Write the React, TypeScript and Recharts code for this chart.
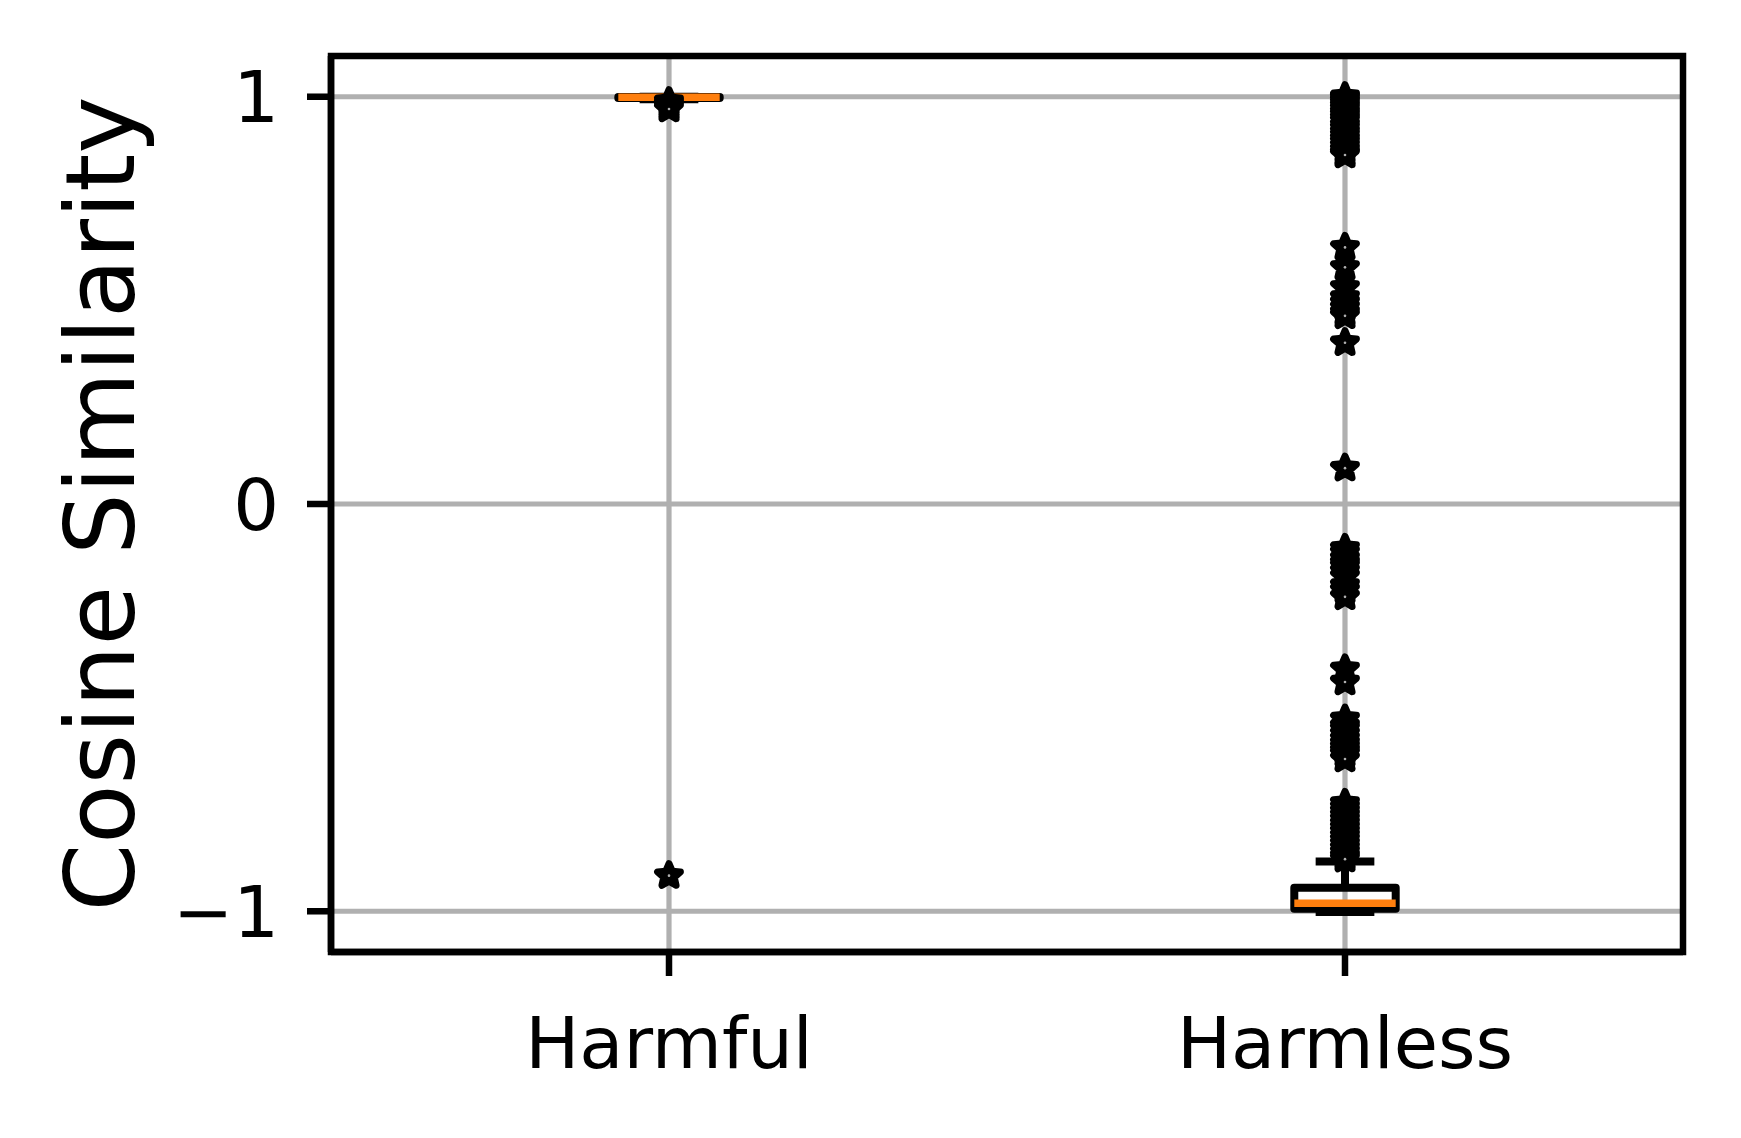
import React from 'react';
import {
  ComposedChart,
  XAxis,
  YAxis,
  CartesianGrid,
  Scatter,
  ReferenceArea,
  ReferenceLine,
  Label,
} from 'recharts';

// ---- data ----
const categories = ['Harmful', 'Harmless'];
const positions = [1, 2];
const boxWidth = 0.15;
const q1 = [0.997, -0.994];
const medians = [0.9985, -0.98];
const q3 = [0.9995, -0.942];
const whiskerLow = [0.994, -1.002];
const whiskerHigh = [1.0, -0.878];

const harmfulOutliers = [0.988, 0.982, 0.976, 0.97, -0.9125];
const harmlessOutliers = [
  1.0, 0.996, 0.99, 0.984, 0.977, 0.97, 0.962, 0.955, 0.947, 0.94, 0.93, 0.922, 0.913, 0.905,
  0.896, 0.888, 0.879, 0.87, 0.862, 0.857,
  0.63, 0.581, 0.532, 0.507, 0.494, 0.482, 0.47, 0.462, 0.396, 0.088,
  -0.109, -0.12, -0.134, -0.145, -0.153, -0.165, -0.178, -0.2, -0.212, -0.228,
  -0.405, -0.437,
  -0.528, -0.545, -0.553, -0.565, -0.577, -0.588, -0.597, -0.606, -0.614, -0.626,
  -0.735, -0.745, -0.755, -0.765, -0.775, -0.785, -0.795, -0.805, -0.815, -0.825, -0.835,
  -0.845, -0.855, -0.865, -0.872,
];

const yTicks = [-1, 0, 1];
const xDomain = [0.5, 2.5];
const yDomain = [-1.1, 1.1];

const outlierData = [
  ...harmfulOutliers.map((v) => ({ x: positions[0], y: v })),
  ...harmlessOutliers.map((v) => ({ x: positions[1], y: v })),
];

const FONT = '"DejaVu Sans", sans-serif';
const SPINE = 6.5;
const GRID = 5.2;
const BLW = 8;

const Star = (props: any) => {
  const { cx, cy } = props;
  if (cx == null || cy == null) return null;
  const R = 12;
  const r = 5.5;
  const pts: string[] = [];
  for (let i = 0; i < 10; i++) {
    const rad = i % 2 === 0 ? R : r;
    const a = -Math.PI / 2 + (i * Math.PI) / 5;
    pts.push(`${cx + rad * Math.cos(a)},${cy + rad * Math.sin(a)}`);
  }
  return (
    <g>
      <polygon
        points={pts.join(' ')}
        fill="#000"
        stroke="#000"
        strokeWidth={7}
        strokeLinejoin="round"
      />
      <circle cx={cx} cy={cy} r={1.3} fill="#b0b0b0" />
    </g>
  );
};

const fmtY = (v: number) => (v < 0 ? `\u2212${Math.abs(v)}` : `${v}`);
const fmtX = (v: number) => {
  const i = positions.indexOf(v);
  return i >= 0 ? categories[i] : '';
};

export default function App() {
  return (
    <div style={{ position: 'absolute', left: 0, top: 0, width: 1741, height: 1138, background: '#fff' }}>
      <ComposedChart
        width={1741}
        height={1138}
        margin={{ top: 56, right: 58, left: 0, bottom: 0 }}
      >
        <CartesianGrid stroke="#b0b0b0" strokeWidth={GRID} vertical horizontal />
        <XAxis
          type="number"
          dataKey="x"
          domain={xDomain}
          ticks={positions}
          tickFormatter={fmtX}
          allowDataOverflow
          height={186}
          tickSize={24}
          tickMargin={41}
          axisLine={{ stroke: '#000', strokeWidth: SPINE }}
          tickLine={{ stroke: '#000', strokeWidth: SPINE }}
          tick={{ fontSize: 72, fill: '#000', fontFamily: FONT }}
        />
        <YAxis
          type="number"
          dataKey="y"
          domain={yDomain}
          ticks={yTicks}
          tickFormatter={fmtY}
          allowDataOverflow
          width={331}
          tickSize={24}
          tickMargin={28}
          axisLine={{ stroke: '#000', strokeWidth: SPINE }}
          tickLine={{ stroke: '#000', strokeWidth: SPINE }}
          tick={{ fontSize: 72, fill: '#000', fontFamily: FONT }}
        >
          <Label
            value="Cosine Similarity"
            angle={-90}
            position="center"
            dx={-66}
            style={{ fontSize: 97, fill: '#000', fontFamily: FONT }}
          />
        </YAxis>

        {positions.map((p, i) => (
          <ReferenceArea
            key={`box-${i}`}
            x1={p - boxWidth / 2}
            x2={p + boxWidth / 2}
            y1={q1[i]}
            y2={q3[i]}
            fill="none"
            fillOpacity={0}
            stroke="#000"
            strokeWidth={BLW}
            strokeOpacity={1}
            strokeLinejoin="round"
            ifOverflow="visible"
          />
        ))}
        {positions.map((p, i) => (
          <ReferenceLine
            key={`wl-${i}`}
            segment={[{ x: p, y: whiskerLow[i] }, { x: p, y: q1[i] }]}
            stroke="#000"
            strokeWidth={BLW}
            ifOverflow="visible"
          />
        ))}
        {positions.map((p, i) => (
          <ReferenceLine
            key={`wh-${i}`}
            segment={[{ x: p, y: q3[i] }, { x: p, y: whiskerHigh[i] }]}
            stroke="#000"
            strokeWidth={BLW}
            ifOverflow="visible"
          />
        ))}
        {positions.map((p, i) => (
          <ReferenceLine
            key={`cl-${i}`}
            segment={[{ x: p - boxWidth / 4, y: whiskerLow[i] }, { x: p + boxWidth / 4, y: whiskerLow[i] }]}
            stroke="#000"
            strokeWidth={BLW}
            strokeLinecap="square"
            ifOverflow="visible"
          />
        ))}
        {positions.map((p, i) => (
          <ReferenceLine
            key={`ch-${i}`}
            segment={[{ x: p - boxWidth / 4, y: whiskerHigh[i] }, { x: p + boxWidth / 4, y: whiskerHigh[i] }]}
            stroke="#000"
            strokeWidth={BLW}
            strokeLinecap="square"
            ifOverflow="visible"
          />
        ))}
        {positions.map((p, i) => (
          <ReferenceLine
            key={`med-${i}`}
            segment={[{ x: p - boxWidth / 2, y: medians[i] }, { x: p + boxWidth / 2, y: medians[i] }]}
            stroke="#ff7f0e"
            strokeWidth={7.5}
            ifOverflow="visible"
          />
        ))}

        <Scatter data={outlierData} dataKey="y" shape={Star} isAnimationActive={false} />

        <ReferenceArea
          x1={xDomain[0]}
          x2={xDomain[1]}
          y1={yDomain[0]}
          y2={yDomain[1]}
          fill="none"
          fillOpacity={0}
          stroke="#000"
          strokeWidth={SPINE}
          strokeOpacity={1}
          ifOverflow="visible"
        />
      </ComposedChart>
    </div>
  );
}
